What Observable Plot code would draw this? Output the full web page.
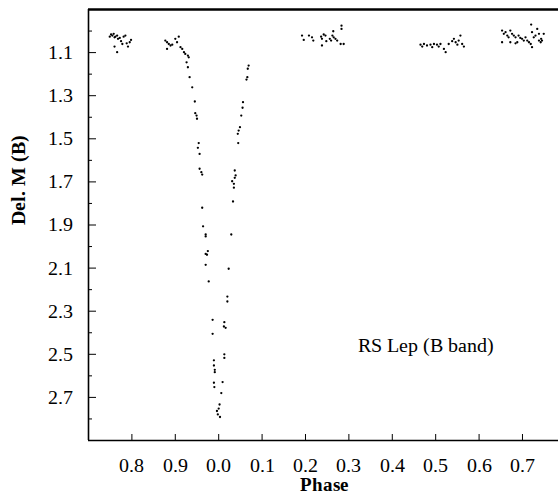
<!DOCTYPE html>
<html><head><meta charset="utf-8">
<script src="https://cdn.jsdelivr.net/npm/d3@7"></script>
<script src="https://cdn.jsdelivr.net/npm/@observablehq/plot@0.6"></script>
<style>
@font-face{font-family:"RefSerif";font-weight:400;font-style:normal;src:local("Liberation Serif"),local("LiberationSerif"),local("Liberation Serif Regular");}
@font-face{font-family:"RefSerif";font-weight:700;font-style:normal;src:local("Liberation Serif Bold"),local("LiberationSerif-Bold");}
body{margin:0;background:#fff}
svg{display:block}
</style>
</head><body><div id="chart"></div>
<script>
// Phase, unwrapped so that the plot runs continuously from 0.7 to 1.78
// (tick labels show phase modulo 1), and Delta magnitude in B
const phase = [
  // cluster near 0.75-0.80
  0.749,0.752,0.755,0.758,0.760,0.762,0.766,0.768,0.772,0.775,0.778,0.781,0.785,0.788,0.791,0.795,0.798,0.760,0.766,
  // descending branch
  0.877,0.881,0.885,0.889,0.893,0.881,0.900,0.908,0.904,0.912,0.916,0.920,0.923,0.929,0.931,0.926,0.929,0.933,0.939,0.945,
  0.946,0.949,0.950,0.954,0.952,0.956,0.956,0.960,0.962,0.962,0.964,0.970,0.970,0.975,0.970,0.973,0.970,0.977,0.986,0.986,
  0.989,0.989,0.991,0.991,0.989,0.990,
  // minimum
  0.996,0.998,1.000,1.002,1.003,
  // ascending branch
  1.006,1.009,1.013,1.013,1.016,1.012,1.013,1.020,1.020,1.023,1.029,1.033,1.035,1.035,1.031,1.037,1.039,1.037,1.045,1.044,
  1.046,1.049,1.052,1.055,1.056,1.064,1.066,1.067,1.069,
  // cluster 0.19-0.29
  1.192,1.196,1.208,1.215,1.218,1.236,1.238,1.242,1.246,1.248,1.238,1.256,1.259,1.262,1.265,1.264,1.269,1.273,1.281,1.283,1.283,1.288,
  // cluster 0.46-0.57
  1.465,1.469,1.473,1.480,1.488,1.492,1.496,1.503,1.507,1.511,1.519,1.523,1.530,1.538,1.542,1.546,1.550,1.553,1.557,1.561,1.565,
  // cluster 0.65-0.75
  1.653,1.657,1.661,1.665,1.668,1.653,1.672,1.676,1.680,1.684,1.688,1.691,1.695,1.699,1.703,1.707,1.711,1.715,1.719,1.720,
  1.722,1.726,1.730,1.734,1.738,1.742,1.738,1.743,1.745,1.749,1.722,1.672,1.684
];
const delM = [
  1.026,1.016,1.021,1.013,1.029,1.026,1.021,1.036,1.032,1.047,1.060,1.026,1.021,1.057,1.072,1.052,1.041,1.072,1.098,
  1.044,1.052,1.060,1.067,1.063,1.083,1.036,1.026,1.052,1.075,1.083,1.098,1.106,1.114,1.122,1.145,1.168,1.214,1.261,1.327,
  1.381,1.392,1.407,1.520,1.542,1.570,1.639,1.655,1.666,1.820,1.906,1.944,1.953,2.021,2.034,2.038,2.085,2.162,2.340,2.405,
  2.528,2.552,2.572,2.583,2.632,2.652,
  2.763,2.779,2.752,2.733,2.791,
  2.680,2.629,2.517,2.500,2.377,2.371,2.351,2.255,2.232,2.103,1.944,1.791,1.727,1.709,1.697,1.681,1.670,1.647,1.520,1.477,
  1.462,1.446,1.392,1.356,1.330,1.225,1.214,1.175,1.160,
  1.021,1.041,1.021,1.029,1.044,1.026,1.036,1.016,1.021,1.047,1.067,1.036,1.044,1.021,1.029,1.001,1.036,1.044,1.060,0.975,0.990,1.060,
  1.063,1.072,1.060,1.067,1.063,1.075,1.060,1.063,1.072,1.060,1.083,1.098,1.060,1.047,1.036,1.052,1.063,1.044,1.021,1.060,1.072,
  0.998,1.013,1.005,1.021,1.029,1.052,0.998,1.013,1.021,1.029,1.052,1.021,1.032,1.036,1.044,1.029,1.044,1.052,1.060,0.970,
  1.005,1.029,1.021,0.990,1.044,1.052,1.013,1.036,1.044,1.013,1.075,1.052,1.057
];

const xTicks = [0.8,0.9,1.0,1.1,1.2,1.3,1.4,1.5,1.6,1.7];
const yMajor = [1.1,1.3,1.5,1.7,1.9,2.1,2.3,2.5,2.7];
const yMinor = [1.0,1.2,1.4,1.6,1.8,2.0,2.2,2.4,2.6,2.8];
const xDomain = [0.7, 1.783];
const yDomain = [0.9, 2.9];
const annotation = [{x: 1.478, y: 2.459, text: "RS Lep (B band)"}];
const xTitle = "Phase";
const yTitle = "Del. M (B)";

const points = phase.map((p, i) => ({x: p, y: delM[i]}));

const FONT = "RefSerif,'Liberation Serif',serif";
const FS = 20;
const W = 558, H = 503, mL = 88, mR = 0, mT = 9, mB = 63;
const innerW = W - mL - mR, innerH = H - mT - mB;

const chart = Plot.plot({
  width: W, height: H,
  marginLeft: mL, marginRight: mR, marginTop: mT, marginBottom: mB,
  style: {fontFamily: FONT, fontSize: FS + "px", color: "#000", background: "#fff"},
  x: {domain: xDomain},
  y: {domain: yDomain, reverse: true},
  marks: [
    Plot.axisX(xTicks, {tickSize: 0, tickPadding: 17, tickFormat: d => (d % 1).toFixed(1), label: null, fontFamily: FONT, fontSize: FS}),
    Plot.axisY(yMajor, {tickSize: 0, tickPadding: 16, tickFormat: d => d.toFixed(1), label: null, fontFamily: FONT, fontSize: FS}),
    Plot.ruleX(xTicks, {insetTop: innerH - 6, stroke: "#000", strokeWidth: 1}),
    Plot.ruleY(yMajor, {insetRight: innerW - 8, stroke: "#000", strokeWidth: 1}),
    Plot.ruleY(yMinor, {insetRight: innerW - 4, stroke: "#000", strokeWidth: 1}),
    Plot.ruleX([xDomain[0]], {stroke: "#000", strokeWidth: 1.6}),
    Plot.ruleY([yDomain[1]], {stroke: "#000", strokeWidth: 1.6}),
    Plot.ruleY([yDomain[0]], {stroke: "#000", strokeWidth: 2.5}),
    Plot.dot(points, {x: "x", y: "y", r: 1.15, fill: "#000", stroke: null}),
    Plot.text(annotation, {x: "x", y: "y", text: "text", textAnchor: "middle", fontFamily: FONT, fontSize: FS}),
    Plot.text([xTitle], {text: d => d, frameAnchor: "bottom", dy: 50, fontWeight: "bold", fontSize: 19, fontFamily: FONT}),
    Plot.text([yTitle], {text: d => d, frameAnchor: "left", dx: -70, rotate: -90, fontWeight: "bold", fontSize: 20, fontFamily: FONT})
  ]
});
document.getElementById("chart").append(chart);
</script>
</body></html>
